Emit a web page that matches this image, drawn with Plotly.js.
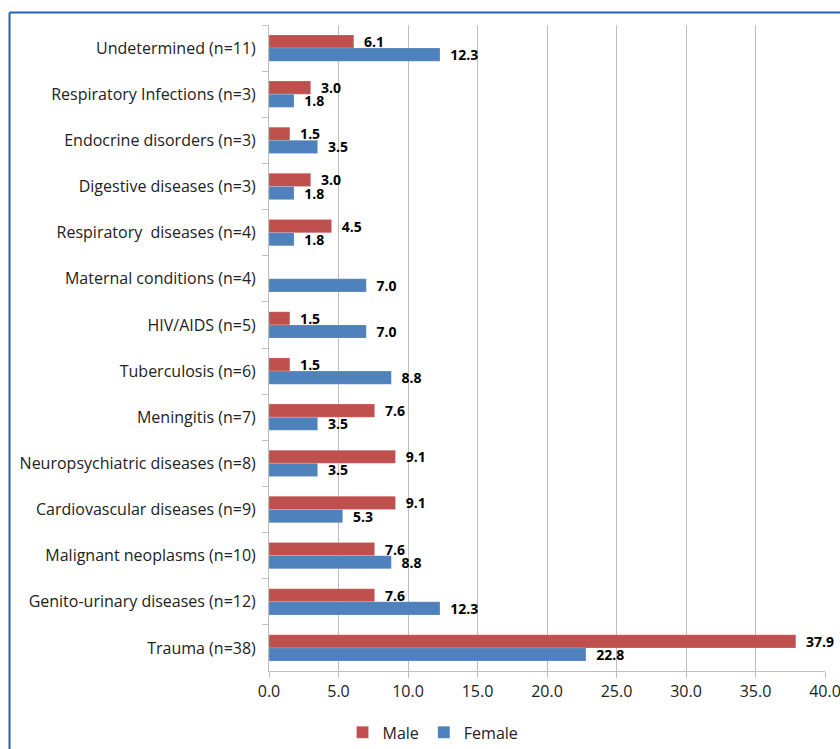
<!DOCTYPE html>
<html>
<head>
<meta charset="utf-8">
<script src="https://cdn.plot.ly/plotly-3.0.1.min.js"></script>
<style>
  html, body { margin: 0; padding: 0; background: #ffffff; }
  #chart { width: 840px; height: 749px; }
</style>
</head>
<body>
<div id="chart"></div>
<script>
// Causes of death, percentage by sex (top to bottom)
const categories = [
  "Undetermined (n=11)",
  "Respiratory Infections (n=3)",
  "Endocrine disorders (n=3)",
  "Digestive diseases (n=3)",
  "Respiratory  diseases (n=4)",
  "Maternal conditions (n=4)",
  "HIV/AIDS (n=5)",
  "Tuberculosis (n=6)",
  "Meningitis (n=7)",
  "Neuropsychiatric diseases (n=8)",
  "Cardiovascular diseases (n=9)",
  "Malignant neoplasms (n=10)",
  "Genito-urinary diseases (n=12)",
  "Trauma (n=38)"
];
const male   = [6.1, 3.0, 1.5, 3.0, 4.5, null, 1.5, 1.5, 7.6, 9.1, 9.1, 7.6, 7.6, 37.9];
const female = [12.3, 1.8, 3.5, 1.8, 1.8, 7.0, 7.0, 8.8, 3.5, 3.5, 5.3, 8.8, 12.3, 22.8];
const xTicks = [0, 5, 10, 15, 20, 25, 30, 35, 40];

const FONT = "'Open Sans', Lato, sans-serif";
const labelFont = { family: FONT, size: 14, color: "#000000", weight: "bold" };

function series(name, values, color) {
  return {
    type: "bar",
    orientation: "h",
    name: name,
    y: categories,
    x: values,
    marker: { color: color, line: { color: "rgba(255,255,255,0.35)", width: 0.5 } },
    texttemplate: "\u00a0\u00a0%{x:.1f}",
    textposition: "outside",
    textfont: labelFont,
    constraintext: "none",
    cliponaxis: false,
    hoverinfo: "skip"
  };
}

const data = [
  series("Male", male, "#C0504D"),
  series("Female", female, "#4F81BD")
];

// plot area spans x 269..825, y 25..671.5 in page pixels
const L = 269, R = 825, T = 25, B = 671.5;
const px = v => (v - L) / (R - L);
const py = v => (B - v) / (B - T);

const layout = {
  width: 840,
  height: 749,
  margin: { l: L, r: 840 - R, t: T, b: 749 - B, autoexpand: false },
  paper_bgcolor: "#ffffff",
  plot_bgcolor: "#ffffff",
  font: { family: FONT, size: 16, color: "#222222" },
  barmode: "group",
  bargap: 0.43,
  bargroupgap: 0,
  showlegend: true,
  legend: {
    orientation: "h",
    x: px(433),
    xanchor: "center",
    y: py(733),
    yanchor: "middle",
    font: { family: FONT, size: 16, color: "#222222" },
    itemwidth: 30,
    tracegroupgap: 0
  },
  xaxis: {
    range: [0, 40],
    tickvals: xTicks,
    tickformat: ".1f",
    showgrid: true,
    gridcolor: "#BEBEBE",
    gridwidth: 1,
    zeroline: false,
    showline: true,
    linecolor: "#BEBEBE",
    linewidth: 1,
    ticks: "outside",
    ticklen: 6,
    tickcolor: "#BEBEBE",
    ticklabeloverflow: "allow",
    tickfont: { family: FONT, size: 16, color: "#222222" },
    fixedrange: true
  },
  yaxis: {
    type: "category",
    autorange: "reversed",
    showgrid: false,
    zeroline: false,
    showline: true,
    linecolor: "#BEBEBE",
    linewidth: 1,
    ticks: "outside",
    tickson: "boundaries",
    ticklen: 6,
    tickcolor: "#BEBEBE",
    ticklabelstandoff: 9,
    tickfont: { family: FONT, size: 16, color: "#222222" },
    fixedrange: true
  },
  shapes: [
    // frame around the figure (top and left edges visible)
    {
      type: "line", xref: "paper", yref: "paper",
      x0: px(9.5), x1: px(900), y0: py(12.5), y1: py(12.5),
      line: { color: "#2563AE", width: 2 }
    },
    {
      type: "line", xref: "paper", yref: "paper",
      x0: px(9.5), x1: px(9.5), y0: py(12.5), y1: py(800),
      line: { color: "#2563AE", width: 2 }
    }
  ]
};

Plotly.newPlot("chart", data, layout, { staticPlot: true, displayModeBar: false });
</script>
</body>
</html>
